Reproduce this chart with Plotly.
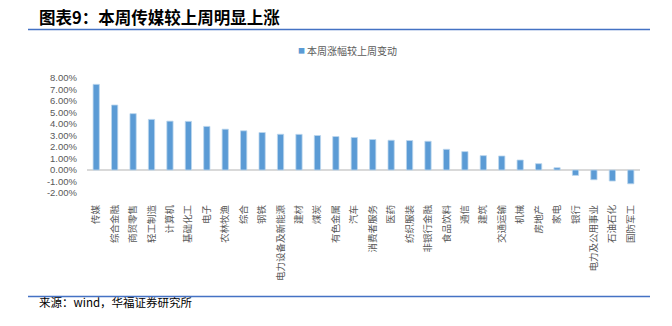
import plotly.graph_objects as go

categories = ["传媒", "综合金融", "商贸零售", "轻工制造", "计算机", "基础化工", "电子", "农林牧渔",
              "综合", "钢铁", "电力设备及新能源", "建材", "煤炭", "有色金属", "汽车", "消费者服务",
              "医药", "纺织服装", "非银行金融", "食品饮料", "通信", "建筑", "交通运输", "机械",
              "房地产", "家电", "银行", "电力及公用事业", "石油石化", "国防军工"]
values = [7.45, 5.65, 4.90, 4.40, 4.25, 4.23, 3.79, 3.55, 3.41, 3.26, 3.11, 3.10, 3.00, 2.91,
          2.83, 2.65, 2.59, 2.56, 2.50, 1.80, 1.60, 1.25, 1.22, 0.87, 0.55, 0.20, -0.47, -0.85,
          -0.96, -1.20]
series_name = "本周涨幅较上周变动"
title_text = "图表9：本周传媒较上周明显上涨"
source_text = "来源：wind，华福证券研究所"
y_ticks = [-2, -1, 0, 1, 2, 3, 4, 5, 6, 7, 8]

W, H = 672, 326
L, R, T, B = 87, 32, 78, 133
PW, PH = W - L - R, H - T - B


def px2x(px):
    return (px - L) / PW


def px2y(py):
    return (H - B - py) / PH


CJK = "Noto Sans CJK SC"
GRAY = "#595959"
BAR = "#5B9BD5"
LINE = "#4472C4"

fig = go.Figure()
fig.add_trace(go.Bar(
    x=categories, y=values, name=series_name,
    marker=dict(color=BAR, line=dict(color="#BDD7EE", width=0.8)),
    showlegend=False,
))

fig.update_layout(
    width=W, height=H,
    margin=dict(l=L, r=R, t=T, b=B, pad=0),
    paper_bgcolor="white", plot_bgcolor="white",
    bargap=0.66,
    font=dict(family=CJK, color=GRAY),
    xaxis=dict(
        type="category", tickangle=-90, showgrid=False, showline=False, zeroline=False,
        ticks="", tickfont=dict(family=CJK, size=9.5, color=GRAY), ticklabelstandoff=9,
    ),
    yaxis=dict(
        range=[-2, 8], tickvals=y_ticks, ticktext=["%.2f%%" % v for v in y_ticks],
        showgrid=False, showline=False, zeroline=True, zerolinecolor="#D9D9D9", zerolinewidth=1.5,
        ticks="", tickfont=dict(family="Liberation Sans", size=9.5, color=GRAY), ticklabelstandoff=9,
    ),
)

# title and source
fig.add_annotation(text="<b>" + title_text + "</b>", xref="paper", yref="paper",
                   x=px2x(37), y=px2y(17), xanchor="left", yanchor="middle", showarrow=False,
                   font=dict(family=CJK, size=16.5, color="black"))
fig.add_annotation(text=source_text, xref="paper", yref="paper",
                   x=px2x(37), y=px2y(302), xanchor="left", yanchor="middle", showarrow=False,
                   font=dict(family=CJK, size=11.5, color="black"))
# legend
fig.add_annotation(text="■", xref="paper", yref="paper",
                   x=px2x(301), y=px2y(50), xanchor="center", yanchor="middle", showarrow=False,
                   font=dict(family=CJK, size=7, color=BAR))
fig.add_annotation(text=series_name, xref="paper", yref="paper",
                   x=px2x(305), y=px2y(50), xanchor="left", yanchor="middle", showarrow=False,
                   font=dict(family=CJK, size=10, color=GRAY))
# rules
for yy in (29.5, 296.5):
    fig.add_shape(type="line", xref="paper", yref="paper",
                  x0=px2x(28), x1=px2x(650), y0=px2y(yy), y1=px2y(yy),
                  line=dict(color=LINE, width=1.5))

fig.write_html("out.html")
